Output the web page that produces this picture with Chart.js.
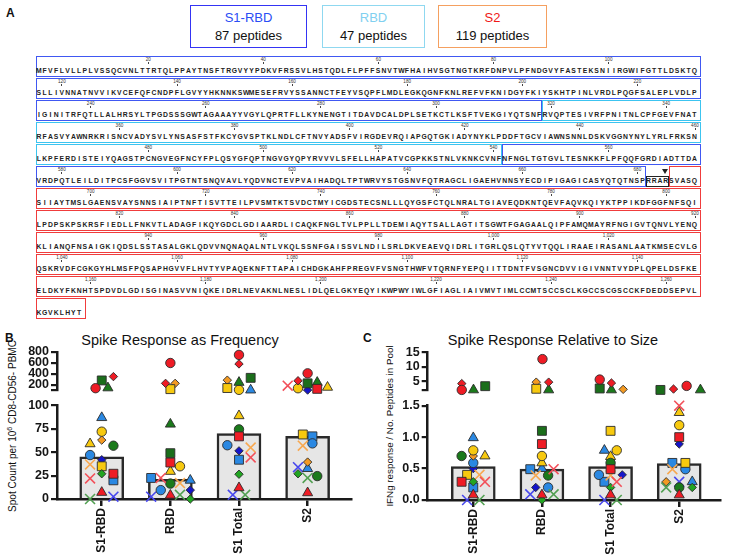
<!DOCTYPE html>
<html>
<head>
<meta charset="utf-8">
<script src="https://cdn.jsdelivr.net/npm/chart.js@4.4.1/dist/chart.umd.min.js"></script>
<style>
  html, body { margin: 0; padding: 0; background: #fff; }
  body { position: relative; width: 729px; height: 556px; overflow: hidden; font-family: "Liberation Sans", Arial, sans-serif; color: #111; }
  .plabel { position: absolute; font-weight: bold; font-size: 12px; }
  .legbox { position: absolute; top: 5px; height: 43px; border: 1.5px solid; box-sizing: border-box; text-align: center; font-size: 13px; line-height: 18px; padding-top: 3px; }
  .seg { position: absolute; border: 1.5px solid; box-sizing: border-box; }
  .aaline { position: absolute; white-space: nowrap; height: 9px; line-height: 9px; font-size: 6.8px; font-weight: bold; color: #222; }
  .aaline span { display: inline-block; text-align: center; }
  .num { position: absolute; width: 20px; text-align: center; font-size: 4.6px; line-height: 5px; color: #333; }
  .tk { position: absolute; width: 0.8px; height: 2.6px; background: #444; }
  .tri { position: absolute; width: 0; height: 0; border-left: 3px solid transparent; border-right: 3px solid transparent; border-top: 5px solid #222; }
  .ytitle { position: absolute; transform: rotate(-90deg); transform-origin: center; white-space: nowrap; text-align: center; color: #111; }
  .ytitle sup { font-size: 70%; line-height: 0; }
  .ptitle { position: absolute; font-size: 14.5px; text-align: center; white-space: nowrap; color: #111; }
  canvas { position: absolute; }
</style>
</head>
<body>
<div class="plabel" style="left:6px;top:6px">A</div>
<div id="seq"></div>

<div class="plabel" style="left:5px;top:331px">B</div>
<div class="ptitle" style="left:30px;top:332px;width:300px">Spike Response as Frequency</div>
<div class="ytitle" style="left:-77px;top:420px;width:180px;line-height:12px;font-size:10px">Spot Count per 10<sup>6</sup> CD8-CD56- PBMC</div>
<canvas id="freqtop" width="360" height="70" style="left:0;top:330px"></canvas>
<canvas id="freqbottom" width="360" height="160" style="left:0;top:396px"></canvas>

<div class="plabel" style="left:363px;top:331px">C</div>
<div class="ptitle" style="left:403px;top:332px;width:300px">Spike Response Relative to Size</div>
<div class="ytitle" style="left:300px;top:420px;width:180px;line-height:12px;font-size:9.8px">IFNg response / No. Peptides in Pool</div>
<canvas id="sizetop" width="367" height="70" style="left:362px;top:330px"></canvas>
<canvas id="sizebottom" width="367" height="160" style="left:362px;top:396px"></canvas>

<script>
// ---- data ----
var categories = ['S1-RBD', 'RBD', 'S1 Total', 'S2'];

var legendNames = ['S1-RBD', 'RBD', 'S2'];
var legendPeptides = [87, 47, 119];

// spike sequence, 115 residues per printed row
var seqRows = [
  'MFVFLVLLPLVSSQCVNLTTRTQLPPAYTNSFTRGVYYPDKVFRSSVLHSTQDLFLPFFSNVTWFHAIHVSGTNGTKRFDNPVLPFNDGVYFASTEKSNIIRGWIFGTTLDSKTQ',
  'SLLIVNNATNVVIKVCEFQFCNDPFLGVYYHKNNKSWMESEFRVYSSANNCTFEYVSQPFLMDLEGKQGNFKNLREFVFKNIDGYFKIYSKHTPINLVRDLPQGFSALEPLVDLP',
  'IGINITRFQTLLALHRSYLTPGDSSSGWTAGAAAYYVGYLQPRTFLLKYNENGTITDAVDCALDPLSETKCTLKSFTVEKGIYQTSNFRVQPTESIVRFPNITNLCPFGEVFNAT',
  'RFASVYAWNRKRISNCVADYSVLYNSASFSTFKCYGVSPTKLNDLCFTNVYADSFVIRGDEVRQIAPGQTGKIADYNYKLPDDFTGCVIAWNSNNLDSKVGGNYNYLYRLFRKSN',
  'LKPFERDISTEIYQAGSTPCNGVEGFNCYFPLQSYGFQPTNGVGYQPYRVVVLSFELLHAPATVCGPKKSTNLVKNKCVNFNFNGLTGTGVLTESNKKFLPFQQFGRDIADTTDA',
  'VRDPQTLEILDITPCSFGGVSVITPGTNTSNQVAVLYQDVNCTEVPVAIHADQLTPTWRVYSTGSNVFQTRAGCLIGAEHVNNSYECDIPIGAGICASYQTQTNSPRRARSVASQ',
  'SIIAYTMSLGAENSVAYSNNSIAIPTNFTISVTTEILPVSMTKTSVDCTMYICGDSTECSNLLLQYGSFCTQLNRALTGIAVEQDKNTQEVFAQVKQIYKTPPIKDFGGFNFSQI',
  'LPDPSKPSKRSFIEDLLFNKVTLADAGFIKQYGDCLGDIAARDLICAQKFNGLTVLPPLLTDEMIAQYTSALLAGTITSGWTFGAGAALQIPFAMQMAYRFNGIGVTQNVLYENQ',
  'KLIANQFNSAIGKIQDSLSSTASALGKLQDVVNQNAQALNTLVKQLSSNFGAISSVLNDILSRLDKVEAEVQIDRLITGRLQSLQTYVTQQLIRAAEIRASANLAATKMSECVLG',
  'QSKRVDFCGKGYHLMSFPQSAPHGVVFLHVTYVPAQEKNFTTAPAICHDGKAHFPREGVFVSNGTHWFVTQRNFYEPQIITTDNTFVSGNCDVVIGIVNNTVYDPLQPELDSFKE',
  'ELDKYFKNHTSPDVDLGDISGINASVVNIQKEIDRLNEVAKNLNESLIDLQELGKYEQYIKWPWYIWLGFIAGLIAIVMVTIMLCCMTSCCSCLKGCCSCGSCCKFDEDDSEPVL',
  'KGVKLHYT'
];
var domainFrom = [1, 319, 542, 682, 686];
var domainTo = [318, 541, 681, 685, 1273];
var domainKind = ['S1', 'RBD', 'S1', 'furin', 'S2'];

// donor order: red circle, red square, red triangle, red diamond, red x,
// green circle, green square, green triangle, green diamond, green x,
// yellow circle, yellow square, yellow triangle, orange diamond, orange x,
// blue circle, blue square, blue triangle, navy diamond, blue x
var freqS1RBD   = [142, 27, 7, 353, 22, 57, 283, 147, 27, 0, 72, 35, 59, 63, 37, 47, 20, 87, 42, 2.5];
var freqRBD     = [600, 39, 4, 230, 22.5, 16.5, 49, 80, 0, 4.5, 35, 125, 29.5, 230, 17, 9.5, 22.5, 20, 9.5, 2.5];
var freqS1Total = [747, 67, 12, 583, 44.5, 74.5, 330, 247, 26.5, 4.5, 112, 145, 89, 288, 55, 57.5, 42, 108, 51.5, 4.5];
var freqS2      = [412, 130, 6.6, 277, 188, 24.5, 230, 247, 27, 22.5, 141, 69, 158, 39.5, 57, 59.5, 67, 32.5, 108, 34];
var freqBars    = [45, 21, 70, 67];

var sizeS1RBD   = [2.0, 0.29, 0.08, 4.2, 0.29, 0.70, 3.3, 2.0, 0.29, 0, 0.79, 0.40, 0.70, 0.70, 0.40, 0.59, 0.20, 0.99, 0.50, 0];
var sizeRBD     = [12.7, 0.89, 0.08, 4.7, 0.49, 0.39, 1.10, 2.0, 0, 0.09, 0.70, 2.4, 0.59, 4.7, 0.39, 0.20, 0.49, 0.50, 0.20, 0.09];
var sizeS1Total = [5.6, 0.49, 0.08, 4.4, 0.29, 0.59, 2.5, 2.0, 0.20, 0, 0.79, 1.10, 0.69, 2.2, 0.39, 0.40, 0.29, 0.79, 0.40, 0];
var sizeS2      = [3.4, 1.0, 0.08, 2.3, 1.50, 0.20, 2.0, 2.0, 0.20, 0.20, 1.19, 0.59, 1.39, 0.29, 0.49, 0.49, 0.59, 0.29, 0.89, 0.29];
var sizeBars    = [0.53, 0.49, 0.53, 0.58];

// horizontal scatter of the dots inside each column (category units)
var jitFreqS1RBD   = [-0.09, 0.17, 0, 0.17, -0.17, 0.17, 0, 0.09, 0, -0.17, 0, 0, -0.17, 0, -0.17, -0.17, 0.17, 0, 0, 0.17];
var jitFreqRBD     = [0, 0, 0, -0.07, -0.14, 0, 0, 0, 0.29, 0.14, 0.14, 0, 0, 0.07, 0.14, -0.14, -0.28, 0.29, 0.29, -0.28];
var jitFreqS1Total = [0, 0, 0, 0, 0.17, 0, 0.17, 0, 0, 0.09, 0, -0.17, 0, -0.17, 0.17, -0.17, 0, 0.17, 0, -0.09];
var jitFreqS2      = [0, 0.14, 0, -0.14, -0.29, 0.14, 0, 0.14, -0.14, 0, -0.14, -0.07, 0.29, 0, -0.07, 0.07, 0.07, 0, 0, -0.14];
var jitSizeS1RBD   = [-0.17, -0.17, 0, -0.17, 0.17, -0.17, 0.17, 0, 0, 0.09, 0, -0.09, 0.17, 0, 0.09, 0, 0, 0, 0, -0.09];
var jitSizeRBD     = [0, 0, 0, 0.09, 0.17, 0.09, 0, 0.09, 0, 0.17, 0, -0.09, 0, -0.09, -0.09, 0.09, -0.17, 0, -0.09, -0.17];
var jitSizeS1Total = [-0.17, 0, 0, 0, 0.09, 0, -0.17, 0, 0, 0.09, 0.09, 0, 0, 0.17, 0, -0.17, -0.09, -0.09, 0.17, -0.09];
var jitSizeS2      = [0.09, 0, 0, -0.1, 0, 0, -0.29, 0.29, 0.19, -0.19, 0, 0.09, 0, -0.19, -0.1, 0.09, -0.1, 0.19, 0, 0];

var freqTopTicks = [200, 400, 600, 800];
var freqBottomTicks = [0, 25, 50, 75, 100];
var sizeTopTicks = [5, 10, 15];
var sizeBottomTicks = [0, 0.5, 1.0, 1.5];

// ---- styles ----
var donorStyles = [
  ['circle', '#ee1c25'], ['rect', '#ee1c25'], ['triangle', '#ee1c25'], ['rectRot', '#ee1c25'], ['crossRot', '#f2505a'],
  ['circle', '#1b7a1b'], ['rect', '#1b6e1b'], ['triangle', '#1b7a1b'], ['rectRot', '#22a522'], ['crossRot', '#52a052'],
  ['circle', '#f7c90f'], ['rect', '#f7c90f'], ['triangle', '#f7c90f'], ['rectRot', '#f39a22'], ['crossRot', '#f8a850'],
  ['circle', '#2a88e2'], ['rect', '#2a88e2'], ['triangle', '#2a88e2'], ['rectRot', '#1515c8'], ['crossRot', '#4848ee']
];
var radii = { circle: 4.7, rect: 6.3, triangle: 5.8, rectRot: 4.2, crossRot: 7 };
var boxColors = { S1: '#4058f2', RBD: '#3cc4f0', S2: '#f03c3c', furin: '#222' };
var legendColors = [['#3434f4', '#2a4df5'], ['#8fd8f0', '#80d0f0'], ['#f5a060', '#f01818']];

// ---- panel A ----
var ROW_TOP = 56, ROW_STEP = 22, LEFT = 36, PITCH = 5.755, PER_ROW = 115;
var seq = document.getElementById('seq');

function add(cls, css, html) {
  var d = document.createElement('div');
  d.className = cls;
  d.style.cssText = css;
  if (html !== undefined) d.innerHTML = html;
  seq.appendChild(d);
  return d;
}

var legLefts = [190, 322, 438], legWidths = [117, 103, 109];
legendNames.forEach(function(n, i) {
  add('legbox', 'left:' + legLefts[i] + 'px;width:' + legWidths[i] + 'px;border-color:' + legendColors[i][0],
      '<span style="color:' + legendColors[i][1] + '">' + n + '</span><br>' + legendPeptides[i] + ' peptides');
});

seqRows.forEach(function(row, r) {
  var top = ROW_TOP + r * ROW_STEP;
  var first = r * PER_ROW + 1, last = first + row.length - 1;
  for (var d = 0; d < domainFrom.length; d++) {
    var a = Math.max(domainFrom[d], first), b = Math.min(domainTo[d], last);
    if (a > b) continue;
    var x1 = LEFT + (a - first) * PITCH, x2 = LEFT + (b - first + 1) * PITCH;
    if (b === last) x2 += 3.5;
    if (domainKind[d] === 'furin') {
      add('seg', 'left:' + x1 + 'px;top:' + (top + 9.5) + 'px;width:' + (x2 - x1) + 'px;height:11px;border-color:' + boxColors.furin);
      add('tri', 'left:' + (x2 - 7) + 'px;top:' + (top + 3) + 'px');
    } else {
      add('seg', 'left:' + x1 + 'px;top:' + top + 'px;width:' + (x2 - x1) + 'px;height:21px;border-color:' + boxColors[domainKind[d]]);
    }
  }
  var html = '';
  for (var i = 0; i < row.length; i++) html += '<span style="width:' + PITCH + 'px">' + row[i] + '</span>';
  add('aaline', 'left:' + LEFT + 'px;top:' + (top + 10) + 'px', html);
  for (var p = Math.ceil(first / 20) * 20; p <= last; p += 20) {
    var cx = LEFT + (p - first + 0.5) * PITCH;
    add('num', 'left:' + (cx - 10) + 'px;top:' + (top + 0.5) + 'px', String(p).replace(/\B(?=(\d{3})+$)/g, ','));
    add('tk', 'left:' + (cx - 0.4) + 'px;top:' + (top + 5.5) + 'px');
  }
});

// ---- panels B and C ----
Chart.defaults.font.family = '"Liberation Sans", Arial, sans-serif';
Chart.defaults.color = '#151515';

function donorSets(values, jitter, keep) {
  return donorStyles.map(function(st, d) {
    var pts = [];
    for (var c = 0; c < categories.length; c++) {
      var v = values[c][d];
      if (keep(v)) pts.push({ x: c + jitter[c][d], y: v });
    }
    var isX = st[0] === 'crossRot';
    return {
      type: 'scatter', data: pts, order: 0, clip: false,
      pointStyle: st[0], pointRadius: radii[st[0]],
      backgroundColor: st[1],
      borderColor: isX ? st[1] : '#2b2b2b',
      borderWidth: isX ? 1.6 : 0.9
    };
  });
}

function yAxis(min, max, ticks, width, fmt) {
  return {
    type: 'linear', min: min, max: max, offset: false,
    afterFit: function(s) { s.width = width; },
    afterBuildTicks: function(s) { s.ticks = ticks.map(function(v) { return { value: v }; }); },
    grid: { display: true, offset: false, drawOnChartArea: false, drawTicks: true, tickLength: 6, lineWidth: 2.2, color: '#1a1a1a' },
    border: { display: true, width: 2.5, color: '#1a1a1a' },
    ticks: { font: { size: 12.5, weight: 'bold' }, padding: 2, autoSkip: false, callback: fmt }
  };
}

function makePanel(p) {
  var base = {
    animation: false, responsive: false,
    plugins: { legend: { display: false }, tooltip: { enabled: false } }
  };

  new Chart(document.getElementById(p.id + 'top'), {
    type: 'scatter',
    data: { datasets: donorSets(p.values, p.jitter, function(v) { return v > p.split; }) },
    options: Object.assign({}, base, {
      layout: { padding: { top: p.padTop, right: 7, bottom: 8, left: 0 } },
      scales: {
        x: { type: 'linear', display: false, offset: false, min: p.xMin, max: p.xMax },
        y: yAxis(p.topMin, p.topMax, [p.topMin].concat(p.topTicks), p.axisW,
                 function(v) { return v === p.topMin ? '' : String(v); })
      }
    })
  });

  var sets = donorSets(p.values, p.jitter, function(v) { return v <= p.split; });
  sets.push({
    type: 'bar', order: 1,
    data: p.bars.map(function(v, i) { return { x: i, y: v }; }),
    barThickness: 44, backgroundColor: '#e6e6e6', borderColor: '#2a2a2a', borderWidth: 2.5
  });
  new Chart(document.getElementById(p.id + 'bottom'), {
    type: 'scatter',
    data: { datasets: sets },
    options: Object.assign({}, base, {
      layout: { padding: { top: p.padBottomTop, right: 7, bottom: 0, left: 0 } },
      scales: {
        x: {
          type: 'linear', min: p.xMin, max: p.xMax, offset: false,
          afterFit: function(s) { s.height = p.xAxisH; },
          afterBuildTicks: function(s) { s.ticks = categories.map(function(c, i) { return { value: i }; }); },
          grid: { display: true, offset: false, drawOnChartArea: false, drawTicks: true, tickLength: 7, lineWidth: 2.5, color: '#1a1a1a' },
          border: { display: true, width: 2.5, color: '#1a1a1a' },
          ticks: { font: { size: 12, weight: 'bold' }, minRotation: 90, maxRotation: 90, autoSkip: false, padding: 2,
                   callback: function(v) { return categories[v]; } }
        },
        y: yAxis(0, p.split, p.bottomTicks, p.axisW, p.fmt)
      }
    })
  });
}

makePanel({
  id: 'freq',
  values: [freqS1RBD, freqRBD, freqS1Total, freqS2],
  jitter: [jitFreqS1RBD, jitFreqRBD, jitFreqS1Total, jitFreqS2],
  bars: freqBars, split: 100, topMin: 100, topMax: 800,
  topTicks: freqTopTicks, bottomTicks: freqBottomTicks,
  axisW: 57, xMin: -0.652, xMax: 3.638, padTop: 22, padBottomTop: 8, xAxisH: 57,
  fmt: function(v) { return String(v); }
});

makePanel({
  id: 'size',
  values: [sizeS1RBD, sizeRBD, sizeS1Total, sizeS2],
  jitter: [jitSizeS1RBD, jitSizeRBD, jitSizeS1Total, jitSizeS2],
  bars: sizeBars, split: 1.5, topMin: 1.8, topMax: 15,
  topTicks: sizeTopTicks, bottomTicks: sizeBottomTicks,
  axisW: 65.7, xMin: -0.664, xMax: 3.6, padTop: 22.5, padBottomTop: 9.7, xAxisH: 56,
  fmt: function(v) { return v.toFixed(1); }
});
</script>
</body>
</html>
